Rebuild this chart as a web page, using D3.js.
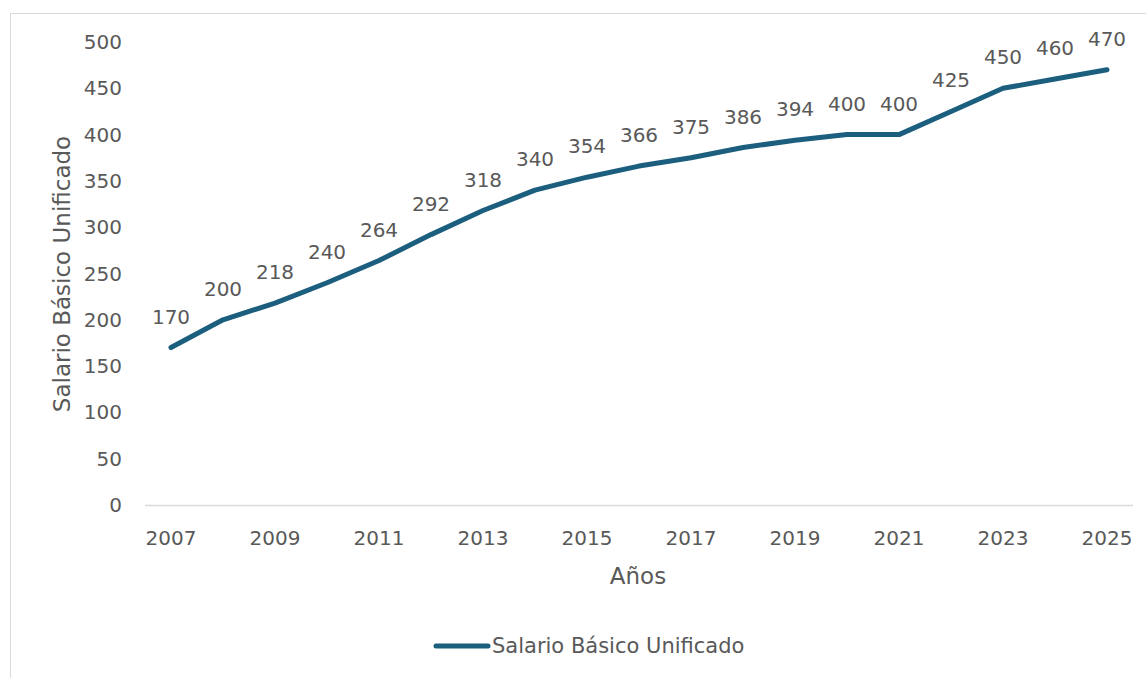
<!DOCTYPE html>
<html>
<head>
<meta charset="utf-8">
<script src="https://cdn.jsdelivr.net/npm/d3@7"></script>
<style>
  body { margin: 0; background: #fff; }
  svg text { font-family: "DejaVu Sans", sans-serif; fill: #595959; }
</style>
</head>
<body>
<script>
// data
var years = [2007, 2008, 2009, 2010, 2011, 2012, 2013, 2014, 2015, 2016,
             2017, 2018, 2019, 2020, 2021, 2022, 2023, 2024, 2025];
var sbu = [170, 200, 218, 240, 264, 292, 318, 340, 354, 366,
           375, 386, 394, 400, 400, 425, 450, 460, 470];
var yTicks = [0, 50, 100, 150, 200, 250, 300, 350, 400, 450, 500];
var seriesName = "Salario Básico Unificado";

var width = 1146, height = 678;
var lineColor = "#1b5e7e";

var svg = d3.select("body").append("svg")
  .attr("width", width)
  .attr("height", height);

// chart frame (only top and left edges show)
svg.append("line").attr("x1", 10).attr("x2", width).attr("y1", 13.5).attr("y2", 13.5)
  .attr("stroke", "#d9d9d9").attr("stroke-width", 1);
svg.append("line").attr("x1", 10.5).attr("x2", 10.5).attr("y1", 13).attr("y2", height)
  .attr("stroke", "#d9d9d9").attr("stroke-width", 1);

var x = d3.scalePoint()
  .domain(years)
  .range([145, 1133])
  .padding(0.5);

var y = d3.scaleLinear()
  .domain([0, 500])
  .range([505, 42]);

// y axis labels
svg.append("g").selectAll("text")
  .data(yTicks)
  .enter().append("text")
  .attr("x", 122)
  .attr("y", function(d) { return y(d) + 7; })
  .attr("text-anchor", "end")
  .style("font-size", "20px")
  .text(function(d) { return d; });

// baseline
svg.append("line")
  .attr("x1", 145).attr("x2", 1133)
  .attr("y1", y(0) + 0.5).attr("y2", y(0) + 0.5)
  .attr("stroke", "#d9d9d9").attr("stroke-width", 1.5);

// x labels, every other year
svg.append("g").selectAll("text")
  .data(years.filter(function(d, i) { return i % 2 == 0; }))
  .enter().append("text")
  .attr("x", function(d) { return x(d); })
  .attr("y", 545)
  .attr("text-anchor", "middle")
  .style("font-size", "20px")
  .text(function(d) { return d; });

// the line
var line = d3.line()
  .x(function(d, i) { return x(years[i]); })
  .y(function(d) { return y(d); });

svg.append("path")
  .datum(sbu)
  .attr("d", line)
  .attr("fill", "none")
  .attr("stroke", lineColor)
  .attr("stroke-width", 5)
  .attr("stroke-linejoin", "round")
  .attr("stroke-linecap", "round");

// data labels above points
svg.append("g").selectAll("text")
  .data(sbu)
  .enter().append("text")
  .attr("x", function(d, i) { return x(years[i]); })
  .attr("y", function(d) { return y(d) - 24; })
  .attr("text-anchor", "middle")
  .style("font-size", "20px")
  .text(function(d) { return d; });

// axis titles
svg.append("text")
  .attr("transform", "translate(70,274) rotate(-90)")
  .attr("text-anchor", "middle")
  .style("font-size", "23px")
  .text(seriesName);

svg.append("text")
  .attr("x", 638)
  .attr("y", 584)
  .attr("text-anchor", "middle")
  .style("font-size", "23px")
  .text("Años");

// legend
svg.append("line")
  .attr("x1", 436).attr("x2", 488)
  .attr("y1", 646).attr("y2", 646)
  .attr("stroke", lineColor)
  .attr("stroke-width", 5)
  .attr("stroke-linecap", "round");
svg.append("text")
  .attr("x", 492)
  .attr("y", 653)
  .style("font-size", "21px")
  .text(seriesName);
</script>
</body>
</html>
